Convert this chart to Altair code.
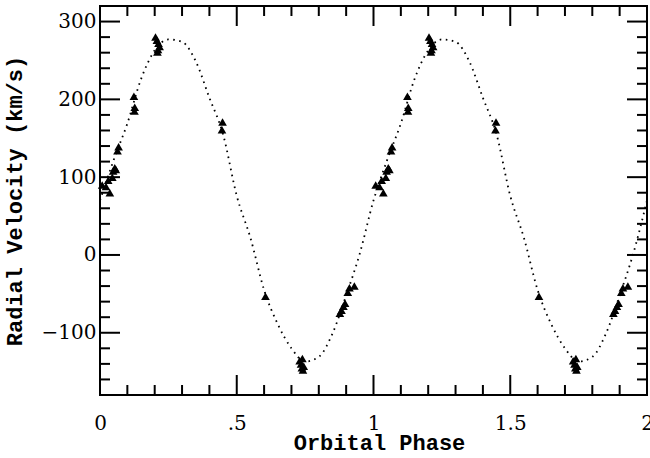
import altair as alt
import pandas as pd

# ---- observations over one orbital cycle (phase, km/s); shown twice (phase and phase + 1)
obs_phase = [0.008, 0.022, 0.030, 0.036, 0.045, 0.048, 0.054, 0.058, 0.064, 0.068,
             0.124, 0.127, 0.126,
             0.203, 0.208, 0.214, 0.218, 0.212, 0.210,
             0.448, 0.446,
             0.605,
             0.730, 0.735, 0.738, 0.742, 0.745, 0.740,
             0.877, 0.883, 0.890, 0.896, 0.906, 0.912, 0.930]
obs_velocity = [90, 88, 96, 80, 100, 108, 112, 110, 134, 139,
                204, 190, 185,
                280, 276, 272, 268, 264, 261,
                171, 161,
                -53,
                -136, -140, -145, -148, -143, -133,
                -75, -71, -66, -62, -48, -42, -40]

# ---- fitted velocity curve (one cycle)
curve_phase = [0.00, 0.05, 0.10, 0.15, 0.20, 0.25, 0.30, 0.35, 0.40, 0.45,
               0.50, 0.55, 0.60, 0.65, 0.70, 0.75, 0.80, 0.85, 0.90, 0.95]
curve_velocity = [70, 122, 169, 226, 263, 277, 274, 249, 202, 155,
                  76, 22, -45, -89, -120, -137, -131, -101, -52, 2]

# ---- axis ticks / labels
x_labels = [0, 0.5, 1, 1.5, 2]
x_major = [0.5, 1, 1.5]
x_minor = [0.1, 0.2, 0.3, 0.4, 0.6, 0.7, 0.8, 0.9, 1.1, 1.2, 1.3, 1.4, 1.6, 1.7, 1.8, 1.9]
y_labels = [-100, 0, 100, 200, 300]
y_major = [-100, 0, 100, 200, 300]
y_minor = [-160, -140, -120, -80, -60, -40, -20, 20, 40, 60, 80, 120, 140, 160, 180,
           220, 240, 260, 280]

x_domain = [0, 2]
y_domain = [-180, 320]

W, H = 547, 389

obs = pd.DataFrame({
    "phase": obs_phase + [p + 1 for p in obs_phase],
    "v": obs_velocity + obs_velocity,
})
curve = pd.DataFrame({
    "phase": curve_phase + [p + 1 for p in curve_phase] + [2.0],
    "v": curve_velocity + curve_velocity + [curve_velocity[0]],
})
xmaj = pd.DataFrame({"phase": x_major})
xmin = pd.DataFrame({"phase": x_minor})
ymaj = pd.DataFrame({"v": y_major})
ymin = pd.DataFrame({"v": y_minor})

xs = alt.Scale(domain=x_domain, nice=False, zero=False)
ys = alt.Scale(domain=y_domain, nice=False, zero=False)

xaxis = alt.Axis(values=x_labels, format=".1~f",
                 labelExpr="datum.value == 0.5 ? '.5' : datum.label",
                 labelPadding=18, labelFlush=False, labelOverlap=False,
                 title="Orbital Phase", titleX=279, titleY=54,
                 titleAlign="center", titleBaseline="alphabetic")
yaxis = alt.Axis(values=y_labels, labelPadding=4, labelFlush=False, labelOverlap=False,
                 title="Radial Velocity (km/s)", titleAngle=270,
                 titleX=-79, titleY=H / 2, titleAlign="center",
                 titleBaseline="alphabetic")

X = alt.X("phase:Q", scale=xs, axis=xaxis)
Y = alt.Y("v:Q", scale=ys, axis=yaxis)

line = alt.Chart(curve).mark_line(
    color="black", strokeWidth=1.8, strokeDash=[1.6, 4.5], interpolate="monotone"
).encode(x=X, y=Y)

pts = alt.Chart(obs).mark_point(
    shape="triangle-up", filled=True, color="black", size=75, opacity=1
).encode(x=X, y=Y)

tick_style = dict(color="black", strokeWidth=2)

def xticks(df, length):
    bottom = alt.Chart(df).mark_rule(**tick_style).encode(
        x=X, y=alt.value(H), y2=alt.value(H - length))
    top = alt.Chart(df).mark_rule(**tick_style).encode(
        x=X, y=alt.value(0), y2=alt.value(length))
    return [bottom, top]

def yticks(df, length):
    left = alt.Chart(df).mark_rule(**tick_style).encode(
        y=Y, x=alt.value(0), x2=alt.value(length))
    right = alt.Chart(df).mark_rule(**tick_style).encode(
        y=Y, x=alt.value(W), x2=alt.value(W - length))
    return [left, right]

layers = [pts, line] + xticks(xmaj, 20) + xticks(xmin, 10) + yticks(ymaj, 20) + yticks(ymin, 10)

chart = alt.layer(*layers).properties(
    width=W, height=H,
    padding={"left": 100, "top": 6, "right": 3, "bottom": 63},
    autosize=alt.AutoSizeParams(type="none"),
    background="white",
).configure_view(
    stroke="black", strokeWidth=2
).configure_axis(
    grid=False, ticks=False, domain=False,
    labelFont="DejaVu Serif", labelFontSize=20, labelColor="black",
    titleFont="Liberation Mono", titleFontSize=22, titleFontWeight="bold",
    titleColor="black",
)

chart.save("out.html", embed_options={"renderer": "svg", "actions": False})
